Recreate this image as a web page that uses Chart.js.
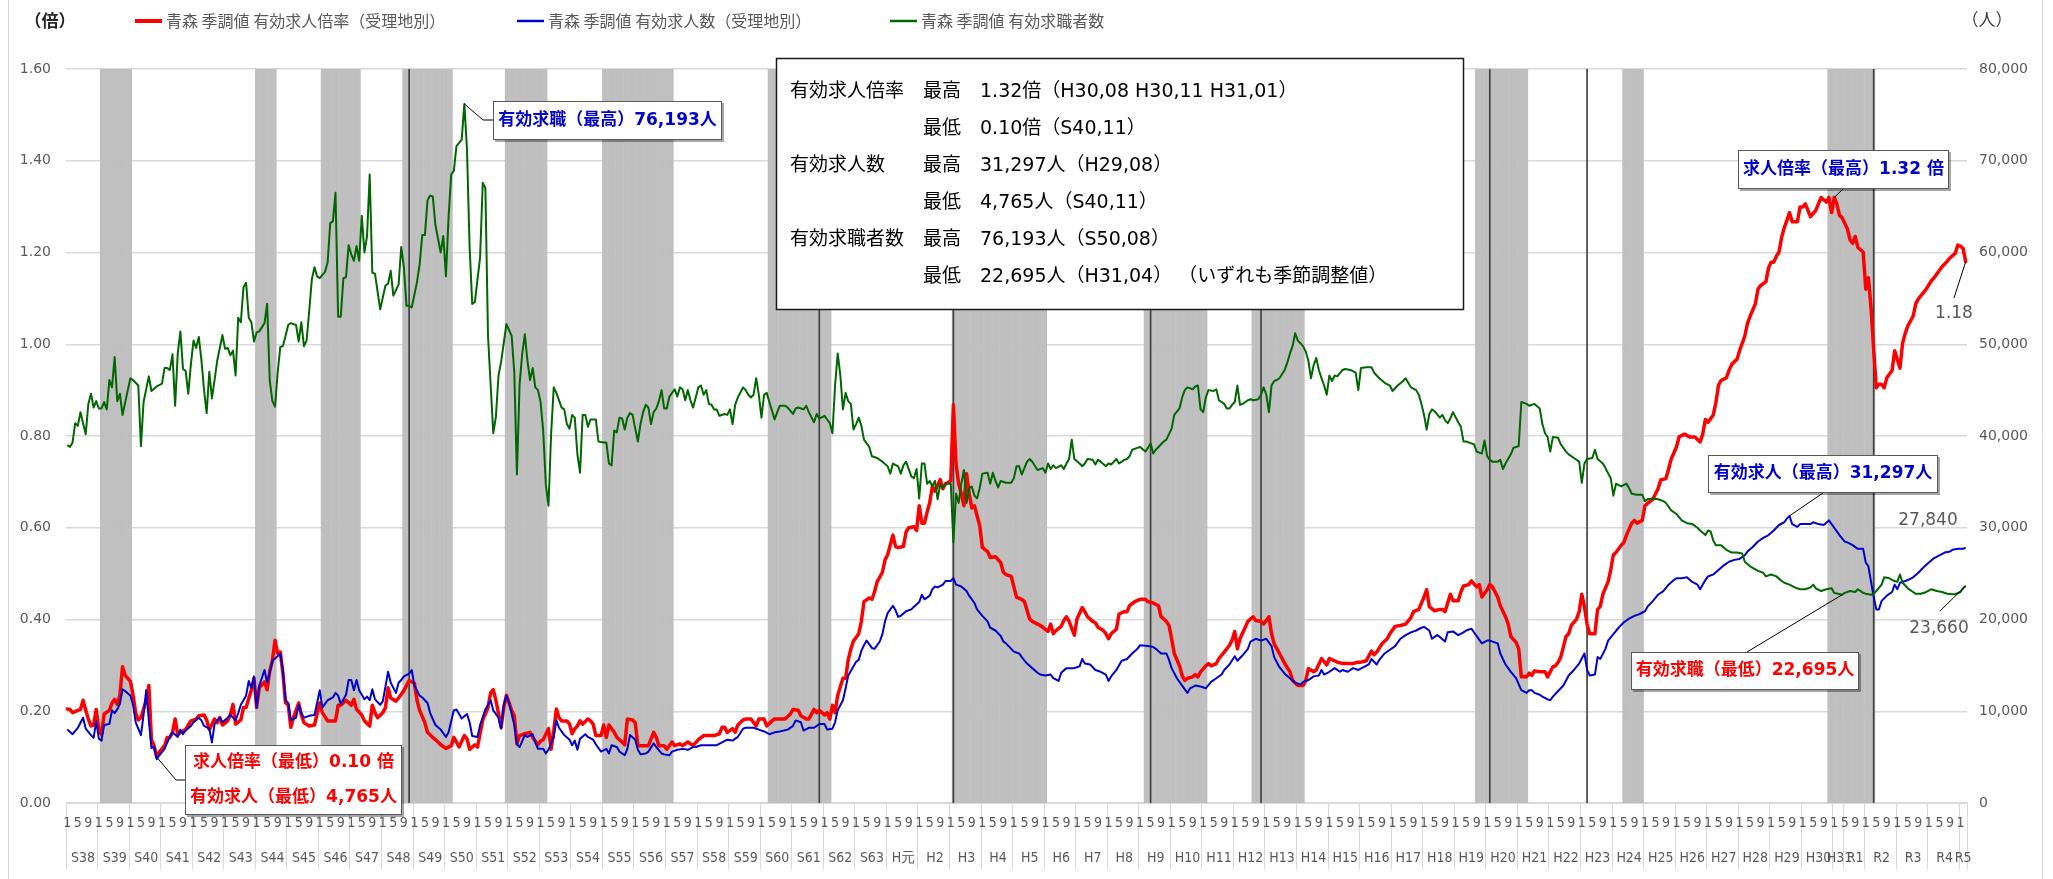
<!DOCTYPE html>
<html lang="ja">
<head>
<meta charset="utf-8">
<title>青森 有効求人倍率・有効求人数・有効求職者数</title>
<script src="https://cdn.jsdelivr.net/npm/chart.js@4/dist/chart.umd.min.js"></script>
<style>
  html, body { margin: 0; padding: 0; background: #fff; }
  #wrap { width: 2053px; height: 879px; }
</style>
</head>
<body>
<div id="wrap"><canvas id="chart" width="2053" height="879"></canvas></div>
<script>
// 月の並び: S38(1963)年1月 〜 R5(2023)年3月
const startYear = 1963;
const monthCount = 723;

// 元号ラベルと開始月（1963年1月 = 0）
const eraLabels = ['S38','S39','S40','S41','S42','S43','S44','S45','S46','S47','S48','S49','S50','S51','S52','S53',
  'S54','S55','S56','S57','S58','S59','S60','S61','S62','S63','H元','H2','H3','H4','H5','H6','H7','H8','H9','H10',
  'H11','H12','H13','H14','H15','H16','H17','H18','H19','H20','H21','H22','H23','H24','H25','H26','H27','H28',
  'H29','H30','H31','R1','R2','R3','R4','R5'];
const eraStart = [0,12,24,36,48,60,72,84,96,108,120,132,144,156,168,180,192,204,216,228,240,252,264,276,288,300,
  312,324,336,348,360,372,384,396,408,420,432,444,456,468,480,492,504,516,528,540,552,564,576,588,600,612,624,636,
  648,660,672,676,684,696,708,720];

// 景気後退期（網掛け）の開始月・終了月、山の月（縦線）
const bandFrom = [13, 72, 97, 128, 167, 204, 267, 337, 410, 451, 536, 592, 670];
const bandTo   = [24, 79, 111, 146, 182, 230, 290, 372, 433, 470, 555, 599, 687];
const peakMonths = [130, 286, 337, 412, 454, 541, 578, 687];

// 有効求人倍率 [月, 倍]
const ratioPairs = [
  [0,.205],[1,.204],[2,.197],[4,.202],[5,.204],[6,.224],[7,.202],[8,.183],[9,.168],[10,.17],[11,.204],[12,.16],[13,.149],
  [14,.194],[16,.202],[17,.218],[18,.226],[19,.215],[20,.235],[21,.297],[22,.278],[24,.265],[25,.235],[26,.197],[27,.181],
  [28,.186],[30,.224],[31,.256],[32,.138],[33,.125],[34,.1],[35,.111],[37,.125],[38,.143],[39,.143],[40,.154],[41,.183],
  [42,.149],[43,.154],[45,.16],[46,.17],[47,.179],[49,.183],[50,.19],[52,.192],[53,.181],[54,.16],[56,.183],[57,.175],
  [58,.186],[59,.17],[61,.179],[62,.192],[63,.215],[64,.172],[66,.181],[67,.208],[68,.208],[70,.247],[71,.272],[72,.208],
  [73,.251],[75,.264],[76,.247],[77,.288],[78,.31],[79,.355],[80,.326],[81,.329],[82,.283],[83,.218],[84,.215],[85,.165],
  [86,.186],[88,.218],[89,.192],[90,.175],[92,.168],[94,.17],[96,.218],[97,.197],[99,.179],[100,.179],[102,.179],[103,.213],
  [104,.213],[106,.224],[108,.213],[109,.226],[110,.204],[112,.192],[113,.179],[115,.168],[116,.213],[117,.197],[118,.186],
  [120,.197],[121,.208],[122,.251],[123,.229],[125,.222],[126,.229],[128,.245],[129,.256],[130,.267],[132,.261],[133,.224],
  [134,.202],[136,.175],[137,.154],[139,.143],[141,.133],[142,.127],[144,.119],[146,.125],[147,.143],[149,.122],[151,.147],
  [152,.14],[153,.117],[155,.127],[156,.122],[158,.181],[160,.208],[161,.24],[162,.247],[163,.224],[165,.165],[166,.208],
  [167,.235],[169,.202],[170,.19],[171,.129],[172,.147],[174,.151],[176,.154],[177,.143],[179,.127],
  [180,.135],[181,.138],[183,.162],[184,.117],[185,.157],[186,.205],[187,.186],[188,.179],[190,.179],[191,.172],[192,.151],
  [193,.162],[194,.168],[195,.179],[196,.172],[198,.183],[199,.179],[200,.172],[201,.147],[203,.147],[204,.17],[205,.143],
  [206,.17],[208,.154],[209,.143],[211,.133],[212,.127],[213,.183],[215,.181],[216,.175],[217,.125],[219,.125],[221,.125],
  [223,.154],[224,.143],[225,.125],[227,.125],[228,.117],[230,.133],[231,.125],[233,.129],[234,.125],[236,.133],[238,.125],
  [240,.138],[242,.147],[244,.147],[246,.147],[248,.151],[249,.165],[250,.165],[251,.154],[253,.162],[254,.154],[255,.17],
  [257,.181],[258,.183],[260,.183],[262,.168],[263,.183],[265,.183],[266,.168],[268,.179],[269,.183],[271,.183],[273,.183],
  [275,.194],[276,.204],[278,.202],[279,.19],[281,.183],[282,.183],[284,.204],[285,.197],[286,.202],[288,.192],[289,.197],
  [290,.183],[291,.213],[292,.197],[293,.235],[295,.272],[296,.272],[297,.312],[298,.336],[299,.353],[301,.369],[302,.396],
  [303,.439],[305,.447],[306,.444],[307,.46],[308,.482],[310,.503],[311,.53],[312,.541],[314,.584],[315,.559],[316,.557],
  [318,.559],[319,.591],[320,.6],[322,.602],[323,.594],[324,.648],[325,.61],[326,.61],[327,.634],[328,.655],[329,.69],
  [330,.68],[332,.705],[333,.685],[334,.696],[336,.702],[337,.868],[338,.739],[339,.696],[340,.675],[341,.648],[342,.718],
  [343,.675],[344,.643],[345,.648],[347,.605],[348,.557],[350,.548],[351,.535],[353,.537],[355,.524],[356,.503],[357,.498],
  [359,.494],[360,.471],[361,.449],[363,.444],[364,.439],[366,.401],[367,.396],[369,.39],
  [370,.387],[371,.383],[373,.374],[374,.39],[375,.369],[376,.376],[378,.385],[379,.398],[380,.406],[381,.396],[383,.366],
  [384,.401],[386,.426],[387,.417],[388,.406],[390,.396],[391,.393],[392,.383],[394,.376],[395,.369],[396,.358],[397,.369],
  [399,.379],[400,.412],[402,.417],[403,.417],[404,.43],[406,.439],[408,.444],[410,.444],[411,.439],[413,.436],[415,.43],
  [416,.406],[418,.396],[419,.387],[420,.358],[421,.326],[423,.299],[424,.278],[425,.267],[426,.272],[428,.275],[429,.28],
  [430,.275],[431,.286],[433,.299],[434,.304],[435,.299],[437,.304],[438,.315],[440,.329],[442,.344],[443,.355],[444,.374],
  [445,.336],[446,.358],[448,.383],[449,.396],[451,.406],[452,.398],[454,.396],[455,.39],[457,.406],[458,.369],[459,.347],
  [461,.326],[463,.304],[465,.286],[466,.267],[468,.256],[470,.256],[471,.267],[472,.293],[474,.286],[475,.29],[477,.315],
  [479,.301],[480,.315],[482,.31],[483,.307],[485,.304],[487,.304],[489,.304],[491,.307],[492,.307],[494,.31],[496,.331],
  [497,.323],[498,.329],[500,.347],[502,.358],[503,.369],[505,.385],[507,.387],[509,.39],[511,.404],[512,.417],[514,.422],
  [516,.449],[517,.465],[518,.428],[520,.419],[522,.422],[523,.422],[524,.417],[526,.455],[527,.441],[529,.441],[530,.46],
  [531,.473],[533,.476],[534,.484],[536,.471],[537,.476],[538,.449],[540,.465],[541,.476],[542,.471],[544,.449],[545,.43],
  [547,.406],[548,.39],[549,.363],[551,.35],
  [552,.336],[553,.275],[555,.275],[556,.283],[557,.278],[558,.288],[560,.286],[561,.286],[562,.286],[563,.275],[565,.297],
  [566,.299],[567,.307],[568,.318],[570,.363],[571,.369],[572,.387],[574,.401],[575,.417],[576,.455],[577,.428],[578,.39],
  [579,.369],[580,.369],[581,.369],[582,.422],[583,.428],[584,.455],[586,.482],[587,.508],[588,.541],[589,.546],[591,.562],
  [592,.568],[593,.584],[595,.61],[596,.616],[597,.61],[599,.616],[600,.648],[601,.653],[603,.662],[605,.685],[606,.704],
  [608,.707],[609,.728],[610,.75],[612,.776],[613,.798],[615,.804],[617,.798],[619,.798],[621,.787],[622,.804],[623,.836],
  [624,.83],[626,.846],[627,.873],[628,.911],[629,.921],[631,.927],[632,.943],[633,.956],[634,.962],[635,.967],[636,.986],
  [638,1.018],[639,1.045],[640,1.061],[642,1.088],[643,1.12],[644,1.128],[646,1.136],[647,1.166],[648,1.179],[649,1.179],
  [650,1.192],[651,1.201],[652,1.233],[653,1.254],[654,1.27],[655,1.287],[656,1.267],[658,1.267],[659,1.299],[660,1.299],
  [661,1.306],[663,1.278],[665,1.292],[667,1.32],[669,1.31],[670,1.32],[671,1.287],[672,1.32],[673,1.306],[674,1.281],
  [675,1.276],[677,1.252],[678,1.228],[679,1.22],[680,1.235],[681,1.211],[683,1.201],[684,1.12],[685,1.145],[686,1.08],
  [687,.99],[688,.905],[689,.913],[690,.913],[691,.905],[692,.927],[694,.943],[695,.986],[697,.948],[698,1.002],[699,1.024],
  [700,1.04],[702,1.061],[703,1.088],[704,1.099],[706,1.113],[707,1.12],[709,1.139],[710,1.145],[711,1.153],[713,1.169],
  [715,1.181],[716,1.188],[718,1.198],[719,1.216],[720,1.214],[721,1.209],[722,1.18]
];

// 有効求人数 [月, 人]
const openingsPairs = [
  [0,8000],[2,7500],[4,8200],[6,9300],[7,8100],[9,7400],[10,7100],[11,8900],[12,7000],[13,6800],[14,8500],[16,8600],
  [17,10100],[18,9800],[19,10200],[20,10800],[21,12400],[22,12200],[24,11700],[25,10700],[26,8800],[27,8100],[28,7400],
  [29,9600],[30,12300],[31,9000],[32,6000],[33,6100],[34,4765],[35,5200],[37,5900],[38,6600],[39,7200],[40,7700],[42,7200],
  [43,8000],[44,7500],[45,7900],[47,8400],[48,8800],[50,9300],[51,9000],[52,8400],[54,8100],[55,6600],[56,8600],[57,9000],
  [58,9300],[59,8800],[61,9300],[62,9600],[64,9000],[65,9800],[66,10700],[68,11700],[69,13300],[70,12500],[71,13800],
  [72,10400],[73,12800],[75,14500],[76,13100],[77,14200],[78,15500],[80,16000],[81,16300],[82,14400],[83,11200],[84,10900],
  [85,9000],[87,9300],[88,10700],[89,9800],[90,9300],[92,9500],[94,9600],[95,10900],[96,12300],[97,10400],[99,11200],
  [101,11500],[102,12000],[103,11700],[104,10800],[106,11800],[107,13400],[108,13400],[109,12300],[110,13400],[111,12300],
  [113,11300],[114,11600],[115,11200],[116,12400],[117,11300],[119,10700],[120,11100],[122,14300],[123,13100],[125,12000],
  [126,13100],[127,13400],[128,13800],[130,14100],[131,14500],[132,12800],[134,11700],[135,11500],[137,10900],[138,9800],
  [140,8500],[142,8000],[144,7200],[145,7700],[147,10100],[148,10200],[150,9200],[152,9700],[153,8800],[154,7300],[156,7200],
  [157,8500],[159,10200],[161,11200],[162,10100],[164,9300],[165,8100],[166,10700],[167,11700],[168,10900],[170,8500],
  [171,6400],[172,6100],[174,7400],[175,7200],[177,7500],[178,6600],[179,5900],
  [181,5900],[182,5400],[183,5800],[185,7200],[186,9000],[187,8200],[189,7400],[191,6900],[192,6300],[193,6800],[194,5800],
  [195,7000],[197,7500],[198,7200],[200,6900],[201,6400],[203,5600],[205,5900],[206,5400],[207,6300],[209,6100],[210,5600],
  [212,5200],[213,5900],[214,7400],[216,6900],[217,5800],[218,5300],[220,5400],[221,5600],[223,6500],[224,6100],[226,5400],
  [227,5300],[229,5200],[230,5600],[232,5800],[234,5900],[236,5800],[238,6100],[239,6100],[241,6300],[243,6300],[245,6300],
  [247,6300],[249,6600],[251,6900],[253,6800],[255,7200],[257,8100],[258,8200],[261,8200],[263,8000],[265,7800],[267,7500],
  [269,7700],[271,7800],[274,8000],[276,8400],[277,9000],[279,8800],[280,7900],[282,8200],[284,8200],[286,8600],[288,8600],
  [289,8000],[291,8100],[292,8800],[293,10100],[295,11200],[296,12500],[297,13900],[298,14400],[300,15400],[301,15600],
  [302,16600],[303,17200],[304,17700],[306,16900],[307,16800],[309,17600],[310,18400],[311,19800],[312,20700],[314,21500],
  [315,21000],[316,20300],[317,20400],[319,20900],[321,21100],[322,21400],[324,21900],[325,22700],[326,22200],[328,22600],
  [329,23300],[330,23600],[331,23500],[333,23800],[334,24200],[336,24200],[337,24500],[338,23800],[340,23600],[342,23100],
  [343,22600],[345,21800],[346,21100],[348,20400],[350,19800],[351,19100],[353,18800],[355,18200],[356,17600],[357,17400],
  [359,16800],[360,16500],[362,16300],[363,15900],[365,15200],[367,14700],[369,14200],
  [370,14000],[372,13900],[374,14000],[375,13600],[377,13300],[378,14200],[380,14700],[382,14700],[383,14700],[385,14900],
  [386,15700],[387,15200],[389,15100],[391,14500],[393,14300],[395,14000],[396,13300],[397,13800],[399,14500],[401,15500],
  [403,15700],[405,16300],[407,16800],[408,17200],[411,17100],[413,17000],[414,16800],[416,16300],[418,16300],[419,15600],
  [420,14700],[422,13600],[424,12800],[426,12000],[427,12500],[429,12800],[431,12700],[433,12500],[435,13200],[437,13600],
  [439,14000],[440,14500],[442,15100],[444,16000],[445,15500],[447,16100],[449,16800],[450,17600],[452,17900],[454,17700],
  [456,17900],[458,17100],[459,15900],[461,14800],[463,14100],[465,13600],[467,13100],[469,12900],[470,13200],[472,13400],
  [474,13800],[476,13900],[477,14500],[478,14000],[480,14300],[482,14700],[484,14300],[485,14500],[487,14300],[489,14700],
  [491,14500],[493,14800],[495,15100],[496,15700],[498,15100],[499,15600],[501,16300],[503,16700],[505,17100],[507,17900],
  [509,18300],[511,18600],[513,18800],[515,19100],[516,19200],[518,18800],[519,17900],[521,18300],[522,18100],[524,17600],
  [525,18600],[527,18700],[529,18300],[531,18600],[532,18800],[534,19000],[536,18200],[538,17400],[540,17700],[541,17700],
  [544,17400],[545,16300],[547,15100],[549,14300],[551,13600],
  [553,12300],[555,12000],[556,12300],[557,12300],[558,12000],[560,11800],[561,11600],[563,11300],[564,11200],[565,11600],
  [567,12200],[569,12800],[571,13900],[573,14500],[575,15200],[577,16300],[578,14500],[579,13900],[581,14000],[582,15900],
  [583,15700],[585,16800],[586,17700],[588,18400],[590,19100],[592,19700],[594,20100],[596,20400],[598,20600],[600,20900],
  [601,21400],[603,22000],[605,22700],[607,23100],[609,23800],[611,24300],[612,24500],[614,24500],[616,24600],[618,24100],
  [620,23800],[621,23300],[623,24300],[624,24700],[626,24900],[628,25400],[630,25900],[632,26300],[634,26500],[636,26600],
  [638,27000],[639,27400],[641,27900],[643,28500],[645,28900],[647,29200],[649,29700],[651,30300],[653,30600],[654,31000],
  [655,31297],[656,30400],[658,30100],[659,30400],[661,30400],[663,30400],[664,30600],[666,30400],[668,30300],[670,30800],
  [672,30000],[674,29200],[676,28500],[677,28400],[679,28100],[681,27700],[683,27700],[684,26200],[685,25800],[686,24100],
  [687,22500],[688,21100],[689,21100],[690,22000],[692,22600],[694,23000],[695,23800],[696,23300],[697,24000],[699,24200],
  [700,24300],[702,24600],[704,25100],[706,25700],[708,26200],[710,26700],[712,27000],[714,27300],[716,27400],[717,27600],
  [719,27700],[721,27700],[722,27840]
];

// 有効求職者数 [月, 人]
const seekersPairs = [
  [0,39000],[1,38800],[2,39300],[3,41400],[4,41100],[5,42600],[6,41400],[7,40200],[8,43500],[9,44600],[10,43100],[11,43800],
  [12,43000],[13,43000],[14,43700],[15,42900],[16,46100],[17,45300],[18,48600],[19,43800],[20,44600],[21,42300],[23,45000],
  [24,46300],[25,46100],[27,45500],[28,38900],[29,43700],[31,46500],[32,44900],[34,45400],[36,45700],[37,47400],[38,47400],
  [39,47200],[40,48900],[41,43300],[42,49000],[43,51400],[44,47300],[45,47100],[46,44600],[47,47800],[48,50400],[49,49600],
  [50,50800],[51,48300],[52,45000],[53,42500],[54,47000],[55,44100],[56,46100],[57,48200],[59,51000],[60,49500],[61,49600],
  [62,48800],[63,49300],[64,46600],[65,52900],[66,52400],[67,56200],[68,56700],[69,52900],[70,52400],[71,50300],[72,51300],
  [73,51400],[75,52300],[76,54400],[77,46000],[78,43800],[79,43200],[80,46900],[81,49700],[82,49800],[83,50900],[84,52100],
  [85,52300],[87,52100],[88,50300],[89,52400],[90,49800],[91,50400],[92,53600],[93,57100],[94,58400],[95,57400],[96,57200],
  [98,57900],[99,58900],[100,63200],[101,63400],[102,66500],[103,53000],[104,53000],[105,57200],[106,57300],[107,60800],
  [108,59800],[109,59100],[110,60700],[111,59100],[112,64000],[113,60000],[114,61800],[115,68500],[116,57800],[117,57700],
  [119,53800],[121,56400],[122,56600],[123,58000],[124,55300],[126,56500],[127,60600],[128,58400],[129,54200],[130,54200],
  [131,54000],[133,56800],[134,58700],[135,61900],[136,61900],[137,65700],[138,66200],[139,66100],[140,63000],[142,60000],
  [143,61800],[144,57400],[145,63800],[146,68500],[147,68900],[148,71600],[150,72300],[151,76193],[152,71300],[153,60600],
  [154,54400],[155,54600],[157,59500],[158,67600],[159,67000],[160,50900],[162,40300],[163,42100],[164,46600],[165,48100],
  [167,52200],[169,50900],[170,46900],[171,35800],[172,45600],[173,48900],[174,51100],[175,48200],[176,46100],[177,47400],
  [178,45300],[179,45000],[180,43700],[181,40500],[182,34700],[183,32400],[184,40200],[185,45300],[186,44700],[188,43100],
  [189,42900],[190,41300],[191,40800],[192,42300],[193,42000],[194,38000],[195,36000],[196,42300],[197,42300],[198,41000],
  [199,41800],[201,41800],[202,39400],[204,39300],[205,39300],[206,37000],[207,36800],[208,40600],[209,40400],[210,42000],
  [211,41900],[212,40700],[213,42000],[214,42500],[215,42300],[216,40800],[217,39400],[218,41300],[219,42600],[220,43400],
  [221,43100],[222,41300],[223,42600],[224,43000],[225,43800],[226,45000],[227,43000],[228,43000],[229,44300],[231,45100],
  [232,44300],[233,45300],[234,45100],[235,43900],[236,45000],[237,43900],[238,43100],[239,44200],[240,45300],[241,45500],
  [242,44500],[243,45000],[244,43500],[245,43400],[246,42900],[247,42900],[248,42200],[250,42400],[251,42300],[252,42900],
  [253,41300],[254,43400],[255,44200],[257,45300],[258,45000],[259,44500],[260,44200],[261,44500],[262,46300],[263,44500],
  [264,42000],[265,44500],[266,44700],[267,43700],[269,41800],[270,42600],[271,43300],[273,43300],[274,43100],[276,42400],
  [277,43000],[278,43100],[280,42900],[281,43300],[282,42600],[284,41500],[285,42400],[286,41900],[288,42200],[289,41800],
  [290,41400],[291,40300],[292,45500],[293,49000],[294,46600],[295,42900],[296,44700],[297,43800],[298,43500],[299,40700],
  [300,41300],[301,42000],[302,41100],[303,39600],[305,38800],[306,37800],[308,37600],[310,37200],[312,36700],[313,35900],
  [314,37000],[316,36700],[317,35900],[318,36800],[319,37200],[321,35600],[322,35400],[323,36400],[324,33200],[325,37000],
  [326,37000],[327,34800],[328,35100],[329,34500],[330,35100],[331,33100],[332,34800],[333,34300],[334,34800],[336,34800],
  [337,28400],[338,33700],[339,32700],[340,34800],[341,36300],[342,32700],[343,34300],[344,34500],[345,33500],[346,33200],
  [347,34300],[348,35900],[350,36000],[351,34800],[352,36000],[353,35100],[354,34400],[355,35100],[357,34900],[359,34900],
  [360,35400],[361,36700],[362,36700],[363,35800],[365,37200],[366,37500],[367,37200],[369,36300],
  [371,36500],[372,36000],[373,37000],[374,36400],[375,36800],[376,36500],[378,36800],[379,36400],[380,37000],[381,37500],
  [382,39600],[383,37500],[385,37000],[386,36700],[387,37000],[388,37500],[390,37400],[391,36900],[392,37400],[393,37200],
  [395,36700],[396,37000],[397,36900],[398,37200],[399,37500],[400,37000],[402,37400],[403,37500],[404,37800],[405,38500],
  [407,38700],[408,38800],[410,38300],[411,38700],[412,39200],[413,38100],[414,38500],[416,39100],[417,39400],[418,39600],
  [420,40800],[421,42300],[423,43000],[424,44200],[425,45000],[426,45300],[428,45100],[429,45400],[430,45500],[431,42900],
  [432,42600],[433,44200],[434,45000],[436,44900],[437,45100],[438,43900],[440,43500],[441,43000],[442,43000],[443,43400],
  [444,43700],[445,45500],[446,43400],[447,43500],[449,43900],[450,44000],[451,43900],[453,44000],[454,44500],[455,45300],
  [456,44500],[457,42600],[458,45500],[459,46000],[460,46100],[461,46300],[463,47200],[464,48000],[465,49000],[466,49800],
  [467,51200],[468,50400],[470,49800],[471,49200],[472,48200],[473,46300],[474,47700],[475,48500],[476,47200],[477,46300],
  [478,45500],[479,44500],[480,46600],[481,46000],[482,46600],[483,46500],[485,47200],[486,47300],[488,47200],[490,46900],
  [491,45000],[492,47400],[494,47500],[496,47500],[497,46900],[499,46300],[501,45800],[503,45500],[504,44900],[506,45500],
  [508,46000],[509,46300],[511,45300],[513,45000],[514,44500],[515,43500],[516,42300],[517,40700],[518,42400],[519,42900],
  [520,42700],[522,42000],[523,42300],[524,41700],[525,41400],[526,41900],[527,42600],[529,41500],[530,41000],[531,39400],
  [532,39400],[534,39200],[535,39100],[536,38300],[538,38100],[539,39500],[540,37800],[541,37400],[542,37200],[544,37200],
  [545,37400],[546,36400],[547,37000],[549,38000],[550,38700],[551,38800],
  [552,38900],[553,43700],[555,43500],[556,43300],[558,43500],[560,43000],[561,41300],[562,40300],[563,39900],[564,38300],
  [565,39900],[567,39800],[568,39100],[570,38300],[571,38000],[573,37600],[575,37200],[576,34900],[577,37000],[578,37500],
  [580,37600],[581,38500],[582,37500],[584,37000],[585,36500],[587,35400],[588,33500],[589,34800],[591,34500],[593,34800],
  [594,34300],[595,33700],[597,33600],[599,33600],[600,32900],[601,33100],[603,33200],[605,33100],[607,32900],[608,32700],
  [610,31900],[612,31500],[614,30800],[616,30500],[618,30400],[620,30000],[621,29700],[623,29200],[624,29700],[625,29600],
  [626,28600],[627,28100],[629,28100],[631,27600],[633,27300],[635,27300],[637,27200],[638,26300],[640,25800],[643,25300],
  [645,25100],[646,24700],[648,24900],[650,24700],[652,24200],[653,24000],[655,23800],[657,23500],[659,23300],[661,23300],
  [663,23500],[664,23800],[665,23400],[667,23100],[669,23300],[671,23400],[672,22900],[675,22695],[676,22900],[678,23100],
  [680,23000],[681,23300],[683,22900],[684,22800],[686,22700],[687,22800],[688,23100],[690,23800],[691,24600],[693,24500],
  [694,24300],[695,24200],[696,24100],[697,24900],[698,24000],[700,23400],[702,23000],[703,22800],[705,22800],[707,23000],
  [709,23300],[711,23100],[713,23000],[715,22800],[717,22750],[718,22750],[720,23000],[721,23400],[722,23660]
];

// ---- ここから描画 ----
const monthLabels = [];
for (let m = 0; m < monthCount; m++) {
  const y = startYear + Math.floor(m / 12);
  monthLabels.push(y + '/' + String(m % 12 + 1).padStart(2, '0'));
}

// 1段目: 1,5,9月 / 2段目: 元号（各区間の中央）
const tickText = monthLabels.map((_, m) => ([0, 4, 8].includes(m % 12) ? String(m % 12 + 1) : ''));
eraLabels.forEach((e, i) => {
  const a = eraStart[i];
  const b = i + 1 < eraStart.length ? eraStart[i + 1] : monthCount;
  const c = Math.floor((a + b) / 2);
  tickText[c] = [tickText[c], e];
});
const dividers = new Set(eraStart);

function toSeries(pairs) {
  const arr = new Array(monthCount).fill(null);
  pairs.forEach(([m, v]) => { arr[m] = v; });
  return arr;
}

const bandData = new Array(monthCount).fill(null);
bandFrom.forEach((f, i) => { for (let m = f; m <= bandTo[i]; m++) bandData[m] = 1; });
const peakData = new Array(monthCount).fill(null);
peakMonths.forEach(m => { peakData[m] = 1; });

const JP = "'Noto Sans CJK JP', sans-serif";
const NUM = "'DejaVu Sans', sans-serif";
const MIX = "'DejaVu Sans', 'Noto Sans CJK JP', sans-serif";

const infoRows = [
  ['有効求人倍率', '最高', '1.32倍（H30,08 H30,11 H31,01）'],
  ['', '最低', '0.10倍（S40,11）'],
  ['有効求人数', '最高', '31,297人（H29,08）'],
  ['', '最低', '4,765人（S40,11）'],
  ['有効求職者数', '最高', '76,193人（S50,08）'],
  ['', '最低', '22,695人（H31,04） （いずれも季節調整値）']
];

const notes = [
  { lines: ['有効求職（最高）76,193人'], color: '#0000cc', rect: [493, 101, 722, 140], from: ['y2', 151, 76193], path: [[483, 120], [493, 120]] },
  { lines: ['求人倍率（最低）0.10 倍', '有効求人（最低）4,765人'], color: '#ff0000', rect: [185, 745, 402, 815], from: ['y', 34, 0.10], path: [[176, 780], [185, 780]] },
  { lines: ['求人倍率（最高）1.32 倍'], color: '#0000cc', rect: [1738, 150, 1949, 189], from: ['y', 672, 1.32], path: [[1843, 189]] },
  { lines: ['有効求人（最高）31,297人'], color: '#0000cc', rect: [1708, 455, 1938, 493], from: ['y2', 655, 31297], path: [[1823, 493]] },
  { lines: ['有効求職（最低）22,695人'], color: '#ff0000', rect: [1631, 652, 1859, 690], from: ['y2', 675, 22695], path: [[1747, 652]] }
];
const valueTags = [
  { text: '1.18', at: [1954, 314], from: ['y', 722, 1.18], to: [1954, 298] },
  { text: '27,840', at: [1928, 521] },
  { text: '23,660', at: [1939, 629], from: ['y2', 722, 23660], to: [1940, 611] }
];

const decor = {
  id: 'decor',
  beforeDraw(chart) {
    const ctx = chart.ctx;
    ctx.save();
    ctx.strokeStyle = '#d9d9d9';
    ctx.lineWidth = 1;
    ctx.beginPath();
    ctx.moveTo(8.5, 0); ctx.lineTo(8.5, 879);
    ctx.moveTo(2042.5, 0); ctx.lineTo(2042.5, 879);
    ctx.stroke();
    ctx.restore();
  },
  afterDraw(chart) {
    const { ctx, scales } = chart;
    const pt = f => [scales.x.getPixelForValue(f[1]), scales[f[0]].getPixelForValue(f[2])];
    ctx.save();
    ctx.textBaseline = 'middle';

    // 単位
    ctx.fillStyle = '#262626';
    ctx.font = 'bold 17px ' + JP;
    ctx.textAlign = 'center';
    ctx.fillText('（倍）', 50, 21);
    ctx.font = '17px ' + JP;
    ctx.fillStyle = '#404040';
    ctx.fillText('（人）', 1987, 20);

    // 凡例
    const legendX = [135, 517, 890];
    ctx.textAlign = 'left';
    ctx.font = '16px ' + JP;
    chart.data.datasets.filter(d => d.inLegend).forEach((d, i) => {
      ctx.strokeStyle = d.borderColor;
      ctx.lineWidth = d.borderWidth + 0.5;
      ctx.beginPath();
      ctx.moveTo(legendX[i], 21);
      ctx.lineTo(legendX[i] + 27, 21);
      ctx.stroke();
      ctx.fillStyle = '#595959';
      ctx.fillText(d.label, legendX[i] + 31, 21);
    });

    // 最高・最低の表
    ctx.fillStyle = '#fff';
    ctx.fillRect(776, 58, 688, 252);
    ctx.strokeStyle = '#1a1a1a';
    ctx.lineWidth = 1.5;
    ctx.strokeRect(776.5, 58.5, 687, 251);
    ctx.fillStyle = '#000';
    ctx.font = '19px ' + MIX;
    infoRows.forEach((r, i) => {
      const y = 92 + i * 37;
      ctx.fillText(r[0], 790, y);
      ctx.fillText(r[1], 923, y);
      ctx.fillText(r[2], 980, y);
    });

    // 吹き出し
    notes.forEach(n => {
      const [x0, y0, x1, y1] = n.rect;
      ctx.strokeStyle = '#000';
      ctx.lineWidth = 1;
      ctx.beginPath();
      const p = pt(n.from);
      ctx.moveTo(p[0], p[1]);
      n.path.forEach(q => ctx.lineTo(q[0], q[1]));
      ctx.stroke();
      ctx.fillStyle = 'rgba(0,0,0,0.35)';
      ctx.fillRect(x0 + 2, y0 + 2, x1 - x0, y1 - y0);
      ctx.fillStyle = '#fff';
      ctx.fillRect(x0, y0, x1 - x0, y1 - y0);
      ctx.strokeStyle = '#595959';
      ctx.strokeRect(x0 + 0.5, y0 + 0.5, x1 - x0 - 1, y1 - y0 - 1);
      ctx.fillStyle = n.color;
      ctx.font = 'bold 17px ' + MIX;
      ctx.textAlign = 'center';
      const h = (y1 - y0) / n.lines.length;
      n.lines.forEach((t, i) => ctx.fillText(t, (x0 + x1) / 2, y0 + h * (i + 0.5)));
    });

    // 最新値
    ctx.font = '17px ' + NUM;
    valueTags.forEach(v => {
      if (v.from) {
        const p = pt(v.from);
        ctx.strokeStyle = '#000';
        ctx.lineWidth = 1;
        ctx.beginPath();
        ctx.moveTo(v.to[0], v.to[1]);
        ctx.lineTo(p[0], p[1]);
        ctx.stroke();
      }
      ctx.fillStyle = '#595959';
      ctx.textAlign = 'center';
      ctx.fillText(v.text, v.at[0], v.at[1]);
    });
    ctx.restore();
  }
};

new Chart(document.getElementById('chart'), {
  type: 'line',
  data: {
    labels: monthLabels,
    datasets: [
      { label: '青森 季調値 有効求人倍率（受理地別）', inLegend: true, data: toSeries(ratioPairs), yAxisID: 'y',
        borderColor: '#ff0000', borderWidth: 3.5, pointRadius: 0, spanGaps: true, tension: 0,
        borderJoinStyle: 'round', borderCapStyle: 'round', order: 3 },
      { label: '青森 季調値 有効求人数（受理地別）', inLegend: true, data: toSeries(openingsPairs), yAxisID: 'y2',
        borderColor: '#0000cc', borderWidth: 2, pointRadius: 0, spanGaps: true, tension: 0,
        borderJoinStyle: 'round', order: 2 },
      { label: '青森 季調値 有効求職者数', inLegend: true, data: toSeries(seekersPairs), yAxisID: 'y2',
        borderColor: '#006600', borderWidth: 2, pointRadius: 0, spanGaps: true, tension: 0,
        borderJoinStyle: 'round', order: 1 },
      { type: 'bar', label: '景気後退期', data: bandData, yAxisID: 'yBand', backgroundColor: '#bfbfbf',
        barPercentage: 1.2, categoryPercentage: 1, grouped: false, order: 10 },
      { type: 'bar', label: '景気の山', data: peakData, yAxisID: 'yBand', backgroundColor: '#404040',
        barThickness: 1, grouped: false, order: 9 }
    ]
  },
  options: {
    responsive: false,
    devicePixelRatio: 1,
    animation: false,
    events: [],
    layout: { padding: { top: 69, left: 0, right: 0, bottom: 0 } },
    plugins: { legend: { display: false }, tooltip: { enabled: false } },
    scales: {
      x: {
        type: 'category',
        offset: true,
        grid: {
          drawOnChartArea: false,
          drawTicks: true,
          tickLength: 67,
          lineWidth: 1,
          color: c => (c.index === undefined || dividers.has(c.index)) ? '#d9d9d9' : 'rgba(0,0,0,0)'
        },
        border: { display: true, color: '#d9d9d9', width: 1 },
        ticks: {
          autoSkip: false, maxRotation: 0, minRotation: 0, padding: -64.5,
          color: '#595959',
          font: { family: "'DejaVu Sans Condensed', 'DejaVu Sans', sans-serif", size: 14, lineHeight: 2.5 },
          callback: (v, i) => tickText[i]
        },
        afterFit: s => { s.height = 76; }
      },
      y: {
        position: 'left', min: 0, max: 1.6,
        grid: { color: '#d9d9d9', lineWidth: 1.5, drawTicks: false },
        border: { display: false },
        ticks: { stepSize: 0.2, padding: 15, color: '#595959', font: { family: NUM, size: 14 },
          callback: v => Number(v).toFixed(2) },
        afterFit: s => { s.width = 66; }
      },
      y2: {
        position: 'right', min: 0, max: 80000,
        grid: { drawOnChartArea: false, drawTicks: false },
        border: { display: false },
        ticks: { stepSize: 10000, padding: 12, color: '#595959', font: { family: NUM, size: 14 },
          callback: v => Number(v).toLocaleString('en-US') },
        afterFit: s => { s.width = 86; }
      },
      yBand: { display: false, min: 0, max: 1 }
    }
  },
  plugins: [decor]
});
</script>
</body>
</html>
